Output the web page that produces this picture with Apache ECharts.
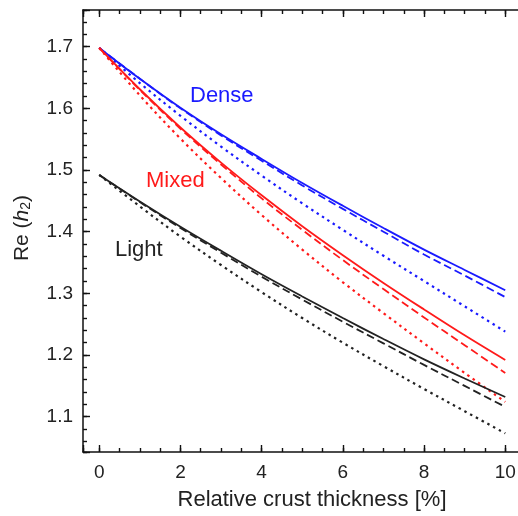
<!DOCTYPE html>
<html>
<head>
<meta charset="utf-8">
<script src="https://cdn.jsdelivr.net/npm/echarts@6/dist/echarts.min.js"></script>
<style>
html,body{margin:0;padding:0;background:#fff;}
#chart{width:518px;height:516px;}
</style>
</head>
<body>
<div id="chart"></div>
<script>
// ---- data ----
const thickness = [0, 1, 2, 3, 4, 5, 6, 7, 8, 9, 10];

const denseSolid  = [1.698, 1.648, 1.601, 1.558, 1.518, 1.479, 1.442, 1.406, 1.371, 1.338, 1.305];
const denseDashed = [1.698, 1.648, 1.600, 1.556, 1.515, 1.475, 1.437, 1.400, 1.363, 1.329, 1.294];
const denseDotted = [1.698, 1.641, 1.588, 1.538, 1.491, 1.446, 1.403, 1.361, 1.320, 1.279, 1.238];

const mixedSolid  = [1.698, 1.631, 1.569, 1.512, 1.459, 1.409, 1.362, 1.317, 1.274, 1.232, 1.192];
const mixedDashed = [1.698, 1.630, 1.567, 1.509, 1.454, 1.403, 1.354, 1.307, 1.261, 1.216, 1.171];
const mixedDotted = [1.698, 1.621, 1.551, 1.487, 1.427, 1.371, 1.318, 1.268, 1.219, 1.171, 1.124];

const lightSolid  = [1.492, 1.449, 1.408, 1.369, 1.331, 1.295, 1.260, 1.226, 1.193, 1.162, 1.132];
const lightDashed = [1.492, 1.448, 1.406, 1.366, 1.327, 1.290, 1.254, 1.219, 1.184, 1.150, 1.116];
const lightDotted = [1.492, 1.441, 1.392, 1.346, 1.302, 1.260, 1.220, 1.182, 1.145, 1.109, 1.073];

const xTickLabels = ['0', '2', '4', '6', '8', '10'];
const yTickLabels = ['1.1', '1.2', '1.3', '1.4', '1.5', '1.6', '1.7'];
const groupNames = ['Dense', 'Mixed', 'Light'];
const xTitle = 'Relative crust thickness [%]';

// ---- chart ----
const FONT = '"Liberation Sans", Arial, Helvetica, sans-serif';
const BLUE = '#1a1aff', RED = '#ff1a1a', BLACK = '#222222';
const XMIN = -0.4, XMAX = 10.4, YMIN = 1.0428, YMAX = 1.7595;

function pairs(arr) { return thickness.map((x, i) => [x, arr[i]]); }
function lineSeries(name, arr, color, kind) {
  let type = 'solid', width = 1.8;
  if (kind === 'dashed') type = [8, 4];
  if (kind === 'dotted') { type = [2.5, 4]; width = 2.2; }
  return {
    name: name, type: 'line', xAxisIndex: 0, yAxisIndex: 0,
    data: pairs(arr), smooth: 0.35, showSymbol: false, symbol: 'none',
    lineStyle: { color: color, width: width, type: type },
    silent: true, animation: false, z: 3
  };
}

function near(v, step) { return Math.abs(v / step - Math.round(v / step)) < 1e-6; }

const axisLineStyle = { color: '#111', width: 1.5 };
function xAxisDef(pos, step, major) {
  return {
    type: 'value', position: pos, min: XMIN, max: XMAX,
    minInterval: step, maxInterval: step,
    axisLine: { show: major, onZero: false, lineStyle: axisLineStyle },
    axisTick: { show: true, inside: true, length: major ? 7 : 4, lineStyle: { color: '#111', width: 1.4 } },
    axisLabel: {
      show: major && pos === 'bottom', margin: 11, fontSize: 19, fontFamily: FONT, color: '#222',
      hideOverlap: false,
      formatter: function (v) {
        if (!near(v, 2)) return '';
        const s = String(Math.round(v));
        return xTickLabels.indexOf(s) >= 0 ? s : '';
      }
    },
    splitLine: { show: false }
  };
}
function yAxisDef(step, major) {
  return {
    type: 'value', position: 'left', min: YMIN, max: YMAX,
    minInterval: step, maxInterval: step,
    axisLine: { show: major, onZero: false, lineStyle: axisLineStyle },
    axisTick: { show: true, inside: true, length: major ? 7 : 4, lineStyle: { color: '#111', width: 1.4 } },
    axisLabel: {
      show: major, margin: 10, fontSize: 19, fontFamily: FONT, color: '#222',
      formatter: function (v) {
        if (!near(v, 0.1)) return '';
        const s = v.toFixed(1);
        return yTickLabels.indexOf(s) >= 0 ? s : '';
      }
    },
    splitLine: { show: false }
  };
}

const chart = echarts.init(document.getElementById('chart'), null, { renderer: 'canvas' });
chart.setOption({
  animation: false,
  backgroundColor: '#ffffff',
  grid: { left: 83, top: 10, width: 438.5, height: 442, containLabel: false, outerBoundsMode: 'none' },
  xAxis: [
    xAxisDef('bottom', 2, true),
    xAxisDef('bottom', 0.5, false),
    xAxisDef('top', 2, true),
    xAxisDef('top', 0.5, false)
  ],
  yAxis: [
    yAxisDef(0.1, true),
    yAxisDef(0.02, false)
  ],
  series: [
    lineSeries('Dense solid', denseSolid, BLUE, 'solid'),
    lineSeries('Dense dashed', denseDashed, BLUE, 'dashed'),
    lineSeries('Dense dotted', denseDotted, BLUE, 'dotted'),
    lineSeries('Mixed solid', mixedSolid, RED, 'solid'),
    lineSeries('Mixed dashed', mixedDashed, RED, 'dashed'),
    lineSeries('Mixed dotted', mixedDotted, RED, 'dotted'),
    lineSeries('Light solid', lightSolid, BLACK, 'solid'),
    lineSeries('Light dashed', lightDashed, BLACK, 'dashed'),
    lineSeries('Light dotted', lightDotted, BLACK, 'dotted')
  ],
  graphic: [
    { type: 'text', left: 190, top: 85, z: 10,
      style: { text: groupNames[0], fill: BLUE, font: '22px ' + FONT } },
    { type: 'text', left: 146, top: 170, z: 10,
      style: { text: groupNames[1], fill: RED, font: '22px ' + FONT } },
    { type: 'text', left: 115, top: 239, z: 10,
      style: { text: groupNames[2], fill: BLACK, font: '22px ' + FONT } },
    { type: 'text', x: 312, y: 500, z: 10,
      style: { text: xTitle, fill: '#222', font: '22px ' + FONT, align: 'center', verticalAlign: 'middle' } },
    { type: 'text', x: 22, y: 228, rotation: Math.PI / 2, z: 10,
      style: {
        text: '{n|Re (}{i|h}{s|2}{n|)}', align: 'center', verticalAlign: 'middle',
        rich: {
          n: { fontSize: 21, fontFamily: FONT, fill: '#222', color: '#222' },
          i: { fontSize: 21, fontFamily: FONT, fontStyle: 'italic', fill: '#222', color: '#222' },
          s: { fontSize: 14, fontFamily: FONT, fill: '#222', color: '#222', padding: [9, 0, 0, 0] }
        }
      } }
  ]
});
</script>
</body>
</html>
